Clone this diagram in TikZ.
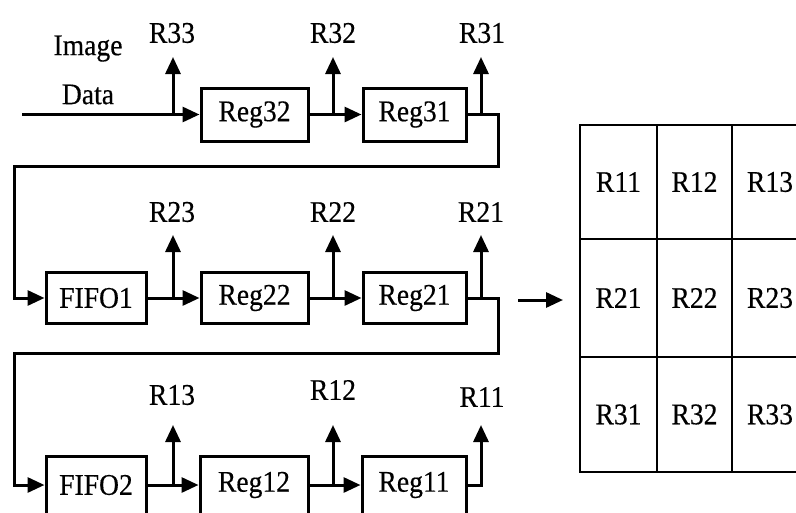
\documentclass[tikz,border=0pt]{standalone}
\usepackage{fontspec}
\setmainfont[FakeStretch=0.92,FakeBold=0.4]{Liberation Serif}
\usetikzlibrary{arrows.meta}
\begin{document}
\begin{tikzpicture}[x=1pt,y=-1pt,
  font=\fontsize{30}{49}\selectfont,
  wire/.style={line width=3pt},
  arr/.style={wire,-{Triangle[length=17pt,width=15pt]}},
  blk/.style={draw,line width=3pt,minimum height=53pt,inner sep=0pt},
  lbl/.style={inner sep=0pt},
  cell/.style={draw,line width=2.6pt,inner sep=0pt}]
\useasboundingbox (0,0) rectangle (796,512);
\clip (0,0) rectangle (796,512);

% blocks
\node[blk,minimum width=107pt] (reg32) at (254.5,114.5) {Reg32};
\node[blk,minimum width=103pt] (reg31) at (414.5,114.5) {Reg31};
\node[blk,minimum width=100pt,minimum height=51pt] (fifo1) at (96,298) {FIFO1};
\node[blk,minimum width=107pt,minimum height=51pt] (reg22) at (254.5,298) {Reg22};
\node[blk,minimum width=103pt,minimum height=51pt] (reg21) at (414.5,298) {Reg21};
\node[blk,minimum width=100pt,minimum height=58pt] (fifo2) at (96,485) {FIFO2};
\node[blk,minimum width=108pt,minimum height=58pt] (reg12) at (254,485) {Reg12};
\node[blk,minimum width=104pt,minimum height=58pt] (reg11) at (414,485) {Reg11};

% input label
\node[align=center,inner sep=0pt] (img) at (88,70) {Image\\Data};

% output labels
\node[lbl] (r33) at (172,33) {R33};
\node[lbl] (r32) at (333,33) {R32};
\node[lbl] (r31) at (482,33) {R31};
\node[lbl] (r23) at (172,212) {R23};
\node[lbl] (r22) at (333,212) {R22};
\node[lbl] (r21) at (481,212) {R21};
\node[lbl] (r13) at (172,395) {R13};
\node[lbl] (r12) at (333,390) {R12};
\node[lbl] (r11) at (482,397) {R11};

% coordinates
\coordinate (src) at (22,114.5);
\coordinate (t33) at (173,114.5); \coordinate (e33) at (173,57);
\coordinate (t32) at (333,114.5); \coordinate (e32) at (333,57);
\coordinate (t31) at (481,114.5); \coordinate (e31) at (481,57);
\coordinate (t23) at (173,298); \coordinate (e23) at (173,235);
\coordinate (t22) at (333,298); \coordinate (e22) at (333,235);
\coordinate (t21) at (481,298); \coordinate (e21) at (481,235);
\coordinate (t13) at (173,485); \coordinate (e13) at (173,425);
\coordinate (t12) at (333,485); \coordinate (e12) at (333,425);
\coordinate (e11) at (481,425);
\coordinate (k1) at (498,166); \coordinate (k2) at (14,166);
\coordinate (k3) at (498,353); \coordinate (k4) at (14,353);

% row 1
\draw[arr] (src) -- (reg32);
\draw[arr] (reg32) -- (reg31);
\draw[arr] (reg31.east) -| (k1) -- (k2) |- (fifo1.west);
\draw[arr] (t33) -- (e33);
\draw[arr] (t32) -- (e32);
\draw[arr] (t31) -- (e31);
% row 2
\draw[arr] (fifo1) -- (reg22);
\draw[arr] (reg22) -- (reg21);
\draw[arr] (reg21.east) -| (k3) -- (k4) |- (fifo2.west);
\draw[arr] (t23) -- (e23);
\draw[arr] (t22) -- (e22);
\draw[arr] (t21) -- (e21);
% row 3
\draw[arr] (fifo2) -- (reg12);
\draw[arr] (reg12) -- (reg11);
\draw[arr] (reg11.east) -| (e11);
\draw[arr] (t13) -- (e13);
\draw[arr] (t12) -- (e12);

% window table
\node[cell,minimum width=77pt,minimum height=114pt] (c11) at (618.5,182) {R11};
\node[cell,minimum width=75pt,minimum height=114pt] (c12) at (694.5,182) {R12};
\node[cell,minimum width=76pt,minimum height=114pt] (c13) at (770,182) {R13};
\node[cell,minimum width=77pt,minimum height=118pt] (c21) at (618.5,298) {R21};
\node[cell,minimum width=75pt,minimum height=118pt] (c22) at (694.5,298) {R22};
\node[cell,minimum width=76pt,minimum height=118pt] (c23) at (770,298) {R23};
\node[cell,minimum width=77pt,minimum height=115pt] (c31) at (618.5,414.5) {R31};
\node[cell,minimum width=75pt,minimum height=115pt] (c32) at (694.5,414.5) {R32};
\node[cell,minimum width=76pt,minimum height=115pt] (c33) at (770,414.5) {R33};

\coordinate (m0) at (518,300); \coordinate (m1) at (563,300);
\draw[arr] (m0) -- (m1);
\end{tikzpicture}
\end{document}
